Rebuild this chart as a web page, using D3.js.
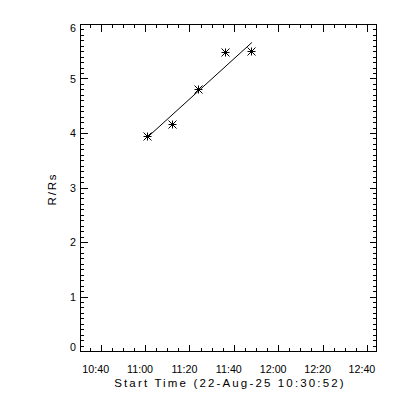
<!DOCTYPE html>
<html>
<head>
<meta charset="utf-8">
<script src="https://cdn.jsdelivr.net/npm/d3@7"></script>
<style>
  html, body { margin: 0; padding: 0; background: #fff; }
  svg { display: block; }
  text { font-family: "Liberation Sans", Arial, sans-serif; fill: #000; }
</style>
</head>
<body>
<svg id="chart" width="400" height="400"></svg>
<script>
// ---- data ----
const xTitle = "Start Time (22-Aug-25 10:30:52)";
const yTitle = "R/Rs";
const xDomain = ["10:30:40", "12:44:05"];
const yDomain = [0, 6];
const xTickLabels = ["10:40", "11:00", "11:20", "11:40", "12:00", "12:20", "12:40"];
const yTickLabels = ["0", "1", "2", "3", "4", "5", "6"];
const obsTimes = ["11:00:50", "11:12:10", "11:23:40", "11:36:00", "11:47:55"];
const obsRadii = [3.95, 4.16, 4.80, 5.48, 5.51];
const fitTimes = ["11:00:50", "11:47:55"];
const fitRadii = [3.93, 5.67];

// ---- layout ----
const L = 80.5, R = 376.5, T = 24.5, B = 351.5;
const parseT = d3.utcParse("%H:%M:%S");
const parseHM = d3.utcParse("%H:%M");

const x = d3.scaleUtc().domain(xDomain.map(parseT)).range([L, R]);
const y = d3.scaleLinear().domain(yDomain).range([B, T]);

const svg = d3.select("#chart");
svg.append("rect").attr("width", 400).attr("height", 400).attr("fill", "#fff");

const g = svg.append("g").attr("stroke", "#000").attr("stroke-width", 1)
  .attr("shape-rendering", "crispEdges").attr("fill", "none");

// frame
g.append("rect").attr("x", L).attr("y", T).attr("width", R - L).attr("height", B - T);

const px = v => Math.round(v - 0.5) + 0.5;

// x ticks (bottom and top, inward)
const minorX = x.ticks(d3.utcMinute.every(5));
minorX.forEach(t => {
  const isMajor = t.getUTCMinutes() % 20 === 0;
  const len = isMajor ? 7 : 3.5;
  const xx = px(x(t));
  g.append("line").attr("x1", xx).attr("x2", xx).attr("y1", B).attr("y2", B - len);
  g.append("line").attr("x1", xx).attr("x2", xx).attr("y1", T).attr("y2", T + len);
});

// y ticks (left and right, inward)
const minorY = y.ticks(60);
minorY.forEach(v => {
  const isMajor = Math.abs(v - Math.round(v)) < 1e-9;
  const len = isMajor ? 7 : 3.5;
  const yy = px(y(v));
  g.append("line").attr("x1", L).attr("x2", L + len).attr("y1", yy).attr("y2", yy);
  g.append("line").attr("x1", R).attr("x2", R - len).attr("y1", yy).attr("y2", yy);
});

// x tick labels
svg.append("g").selectAll("text").data(xTickLabels).join("text")
  .attr("x", d => x(parseHM(d)) - 5.5)
  .attr("y", 372.5)
  .attr("text-anchor", "middle")
  .attr("font-size", 10.7)
  .text(d => d);

// y tick labels
svg.append("g").selectAll("text").data(yTickLabels).join("text")
  .attr("x", 76)
  .attr("y", d => Math.min(Math.max(y(+d), T + 3.5), B - 4) + 3.8)
  .attr("text-anchor", "end")
  .attr("font-size", 10.7)
  .text(d => d);

// axis titles
svg.append("text")
  .attr("x", (L + R) / 2 + 1.5)
  .attr("y", 386.8)
  .attr("text-anchor", "middle")
  .attr("font-size", 11.5)
  .attr("letter-spacing", 2.15)
  .text(xTitle);

svg.append("text")
  .attr("transform", `translate(56,${(T + B) / 2 + 1}) rotate(-90)`)
  .attr("text-anchor", "middle")
  .attr("font-size", 11.5)
  .attr("letter-spacing", 1.8)
  .text(yTitle);

// fit line
const line = d3.line().x(d => x(d[0])).y(d => y(d[1]));
svg.append("path")
  .datum(fitTimes.map((t, i) => [parseT(t), fitRadii[i]]))
  .attr("d", line)
  .attr("fill", "none").attr("stroke", "#000").attr("stroke-width", 1);

// asterisk markers
const s = 4;
const star = svg.append("g").attr("stroke", "#000").attr("stroke-width", 1).attr("fill", "none");
obsTimes.forEach((t, i) => {
  const cx = px(x(parseT(t))), cy = px(y(obsRadii[i]));
  const d = `M${cx - s},${cy}L${cx + s},${cy}M${cx},${cy - s}L${cx},${cy + s}` +
            `M${cx - s},${cy - s}L${cx + s},${cy + s}M${cx - s},${cy + s}L${cx + s},${cy - s}`;
  star.append("path").attr("d", d);
  star.append("rect").attr("x", cx - 1.5).attr("y", cy - 1.5).attr("width", 3).attr("height", 3)
    .attr("fill", "#000").attr("stroke", "none");
});
</script>
</body>
</html>
